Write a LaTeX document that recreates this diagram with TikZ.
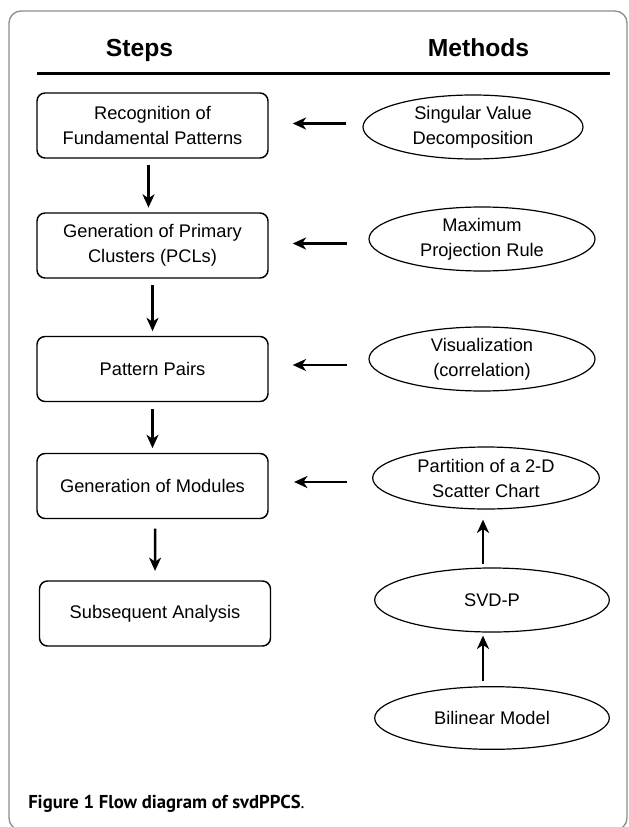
\documentclass[tikz,border=0pt]{standalone}
\usepackage{fontspec}
\setmainfont{Liberation Sans}
\newfontfamily\capfont{PT Sans}
\usetikzlibrary{arrows.meta,shapes.geometric}
\begin{document}
\begin{tikzpicture}[x=0.75pt,y=-0.75pt,
 stepbox/.style={draw, line width=1.1pt, rounded corners=6pt, minimum width=173.25pt,
   minimum height=48.75pt, align=center, inner sep=0pt, font=\fontsize{13.7}{18.75}\selectfont},
 methell/.style={draw, ellipse, line width=0.9pt, inner sep=0pt, align=center,
   minimum height=48pt, font=\fontsize{13.7}{18.75}\selectfont},
 arr/.style={line width=1.8pt, -{Stealth[length=10pt,width=9pt,inset=3pt]}},
 hdr/.style={font=\fontsize{18.5}{20}\selectfont\bfseries, anchor=base}]
\useasboundingbox (0,0) rectangle (628,827);
\draw[draw=black!45, line width=1pt, rounded corners=9pt] (9,11) rectangle (627,830);
% headers
\node[hdr] (hs) at (139.5,57) {Steps};
\node[hdr] (hm) at (478.5,57) {Methods};
\coordinate (r1) at (37,73.5);
\coordinate (r2) at (610,73.5);
\draw[line width=2.2pt] (r1) -- (r2);
% steps
\node[stepbox] (b1) at (152.5,125.5) {Recognition of\\Fundamental Patterns};
\node[stepbox] (b2) at (152.5,245.5) {Generation of Primary\\Clusters (PCLs)};
\node[stepbox] (b3) at (152.5,369) {Pattern Pairs};
\node[stepbox] (b4) at (152.5,486) {Generation of Modules};
\node[stepbox] (b5) at (155,613.5) {Subsequent Analysis};
% methods
\node[methell, minimum width=165pt] (e1) at (473,127) {Singular Value\\Decomposition};
\node[methell, minimum width=169.5pt] (e2) at (482,239) {Maximum\\Projection Rule};
\node[methell, minimum width=169.5pt] (e3) at (482,359) {Visualization\\(correlation)};
\node[methell, minimum width=170pt, minimum height=46.5pt] (e4) at (486,478) {Partition of a 2-D\\Scatter Chart};
\node[methell, minimum width=176pt] (e5) at (492,600) {SVD-P};
\node[methell, minimum width=176pt, minimum height=47pt] (e6) at (492,718) {Bilinear Model};
% down arrows
\draw[arr, shorten <=5pt, shorten >=3.5pt] ([xshift=-3pt]b1.south) -- ([xshift=-3pt]b2.north);
\draw[arr, shorten <=5pt, shorten >=3.5pt] (b2.south) -- (b3.north);
\draw[arr, shorten <=5pt, shorten >=3.5pt] (b3.south) -- (b4.north);
\draw[arr, shorten <=7pt, shorten >=7pt] ([xshift=2pt]b4.south) -- ([xshift=0pt]b5.north);
% left arrows
\draw[arr, shorten <=12pt, shorten >=18pt] ([yshift=1.5pt]b1.east -| e1.west) -- ([yshift=1.5pt]b1.east);
\draw[arr, shorten <=15.75pt, shorten >=18pt] ([yshift=1.5pt]b2.east -| e2.west) -- ([yshift=1.5pt]b2.east);
\draw[arr, shorten <=15.75pt, shorten >=18pt] ([yshift=3pt]b3.east -| e3.west) -- ([yshift=3pt]b3.east);
\draw[arr, shorten <=18.75pt, shorten >=19pt] ([yshift=3pt]b4.east -| e4.west) -- ([yshift=3pt]b4.east);
% up arrows
\draw[arr, shorten <=2.25pt, shorten >=7.5pt] ([xshift=-6.75pt]e5.north) -- ([xshift=-6.75pt]e5.north |- e4.south);
\draw[arr, shorten <=3.75pt, shorten >=2.25pt] ([xshift=-6.75pt]e6.north) -- ([xshift=-6.75pt]e6.north |- e5.south);
% caption
\node[anchor=base west, inner sep=0pt, font=\capfont\fontsize{14}{17}\selectfont] (cap) at (28,808)
  {\bfseries Figure 1 Flow diagram of svdPPCS\mdseries.};
\end{tikzpicture}
\end{document}
